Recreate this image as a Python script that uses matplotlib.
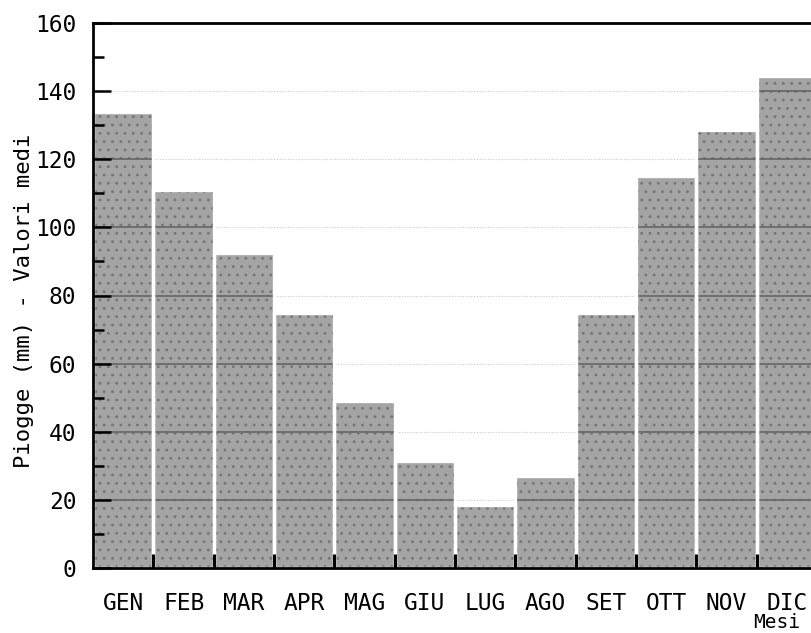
"""
Piogge medie mensili - istogramma
"""

import numpy as np
import matplotlib.pyplot as plt

mesi = ["GEN", "FEB", "MAR", "APR", "MAG", "GIU", "LUG", "AGO", "SET", "OTT", "NOV", "DIC"]
piogge = [134, 111, 92.5, 75, 49, 31.5, 18.5, 27, 75, 115, 128.5, 144.5]
livelli = [20, 40, 60, 80, 100, 120, 140]

plt.rcParams["font.family"] = ["DejaVu Sans Mono"]
plt.rcParams["hatch.linewidth"] = 0.8

fig = plt.figure(figsize=(8.11, 6.33), dpi=100)
ax = fig.add_axes([93 / 811, 65 / 633, 724 / 811, 545 / 633])

x = np.arange(len(mesi))

# griglia chiara nella zona bianca
for lv in livelli:
    ax.axhline(lv, color="#c8c8c8", lw=0.8, ls=(0, (1, 1.5)), zorder=0.5)

# barre punteggiate + bordi bianchi
ax.bar(x, piogge, width=1.0, color="#a4a4a4", hatch="..", edgecolor="#747474", linewidth=0, zorder=1)

# griglia scura sopra le barre
for i, h in enumerate(piogge):
    for lv in livelli:
        if lv < h:
            ax.hlines(lv, i - 0.5, i + 0.5, color="#6a6a6a", lw=1.3, zorder=1.2)

ax.bar(x, piogge, width=1.0, fill=False, edgecolor="white", linewidth=2.4, zorder=1.4)

ax.set_xlim(-0.5, len(mesi) - 0.5)
ax.set_ylim(0, 160)

# tacche ai bordi delle barre, etichette al centro
ax.set_xticks(x[:-1] + 0.5)
ax.set_xticklabels([])
ax.set_xticks(x, minor=True)
ax.set_xticklabels(mesi, minor=True, fontsize=16.5)
ax.tick_params(axis="x", which="major", direction="in", length=10, width=2.2, color="black")
ax.tick_params(axis="x", which="minor", length=0, pad=17)

ax.set_yticks(np.arange(0, 161, 20))
ax.set_yticks(np.arange(10, 160, 20), minor=True)
ax.tick_params(axis="y", which="major", direction="in", length=13, width=1.8, labelsize=16.5, pad=12)
ax.tick_params(axis="y", which="minor", direction="in", length=8, width=1.8)

for s in ["left", "bottom", "top"]:
    ax.spines[s].set_linewidth(2)
ax.spines["right"].set_visible(False)

ax.set_ylabel("Piogge (mm) - Valori medi", fontsize=16)
ax.yaxis.set_label_coords(-0.081, 0.49)

fig.text(753 / 811, 1 - 623 / 633, "Mesi", fontsize=14, va="center", ha="left")

fig.savefig("out.png", dpi=100)
